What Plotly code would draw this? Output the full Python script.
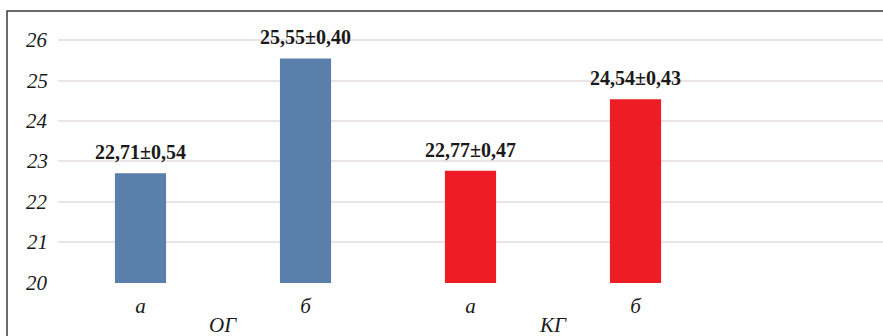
import plotly.graph_objects as go

# Data
positions = [0, 1, 2, 3]
tick_labels = ["а", "б", "а", "б"]
values = [22.71, 25.55, 22.77, 24.54]
errors = ["0,54", "0,40", "0,47", "0,43"]
bar_colors = ["#5a7fab", "#5a7fab", "#ee1c25", "#ee1c25"]
groups = ["ОГ", "КГ"]
group_centers = [0.5, 2.5]
y_ticks = [20, 21, 22, 23, 24, 25, 26]

FONT = "Liberation Serif"
TEXT = "#1a1a1a"

fig = go.Figure()
fig.add_trace(go.Bar(
    x=positions,
    y=values,
    width=0.31,
    marker=dict(color=bar_colors, line=dict(width=0)),
    hoverinfo="skip",
))

# value labels above the bars
for xv, v, e in zip(positions, values, errors):
    fig.add_annotation(
        x=xv, y=v, xref="x", yref="y",
        text=f"{v:.2f}".replace(".", ",") + "±" + e,
        showarrow=False, yanchor="bottom", yshift=8,
        font=dict(family=FONT, size=20, color=TEXT, weight="bold"),
    )

# y-axis labels, italic serif
for t in y_ticks:
    fig.add_annotation(
        x=0, y=t, xref="paper", yref="y",
        text=str(t), showarrow=False,
        xanchor="right", yanchor="middle", xshift=-8,
        font=dict(family=FONT, size=21, color=TEXT, style="italic"),
    )

# group labels under the category ticks
for gx, g in zip(group_centers, groups):
    fig.add_annotation(
        x=gx, y=-0.157, xref="x", yref="paper",
        text=g, showarrow=False, yanchor="middle",
        font=dict(family=FONT, size=21, color=TEXT, style="italic"),
    )

# frame around the chart
fig.add_shape(
    type="rect", xref="paper", yref="paper",
    x0=-0.0618, x1=1.2, y0=-0.4, y1=1.0187,
    line=dict(color="#3a3a3a", width=1.5), fillcolor="rgba(0,0,0,0)",
)

fig.update_layout(
    width=883, height=336,
    margin=dict(l=58, r=0, t=16, b=53),
    paper_bgcolor="white", plot_bgcolor="white",
    showlegend=False,
    xaxis=dict(
        range=[-0.5, 4.5], tickvals=positions, ticktext=tick_labels,
        showgrid=False, zeroline=False, showline=False,
        ticks="outside", ticklen=4, tickcolor="rgba(0,0,0,0)",
        tickfont=dict(family=FONT, size=21, color=TEXT, style="italic"),
    ),
    yaxis=dict(
        range=[19.99, 26.6], tickvals=y_ticks,
        showgrid=True, gridcolor="#ebe3e5", gridwidth=1.5,
        zeroline=False, showline=False, showticklabels=False,
    ),
)

fig.write_html("out.html")
